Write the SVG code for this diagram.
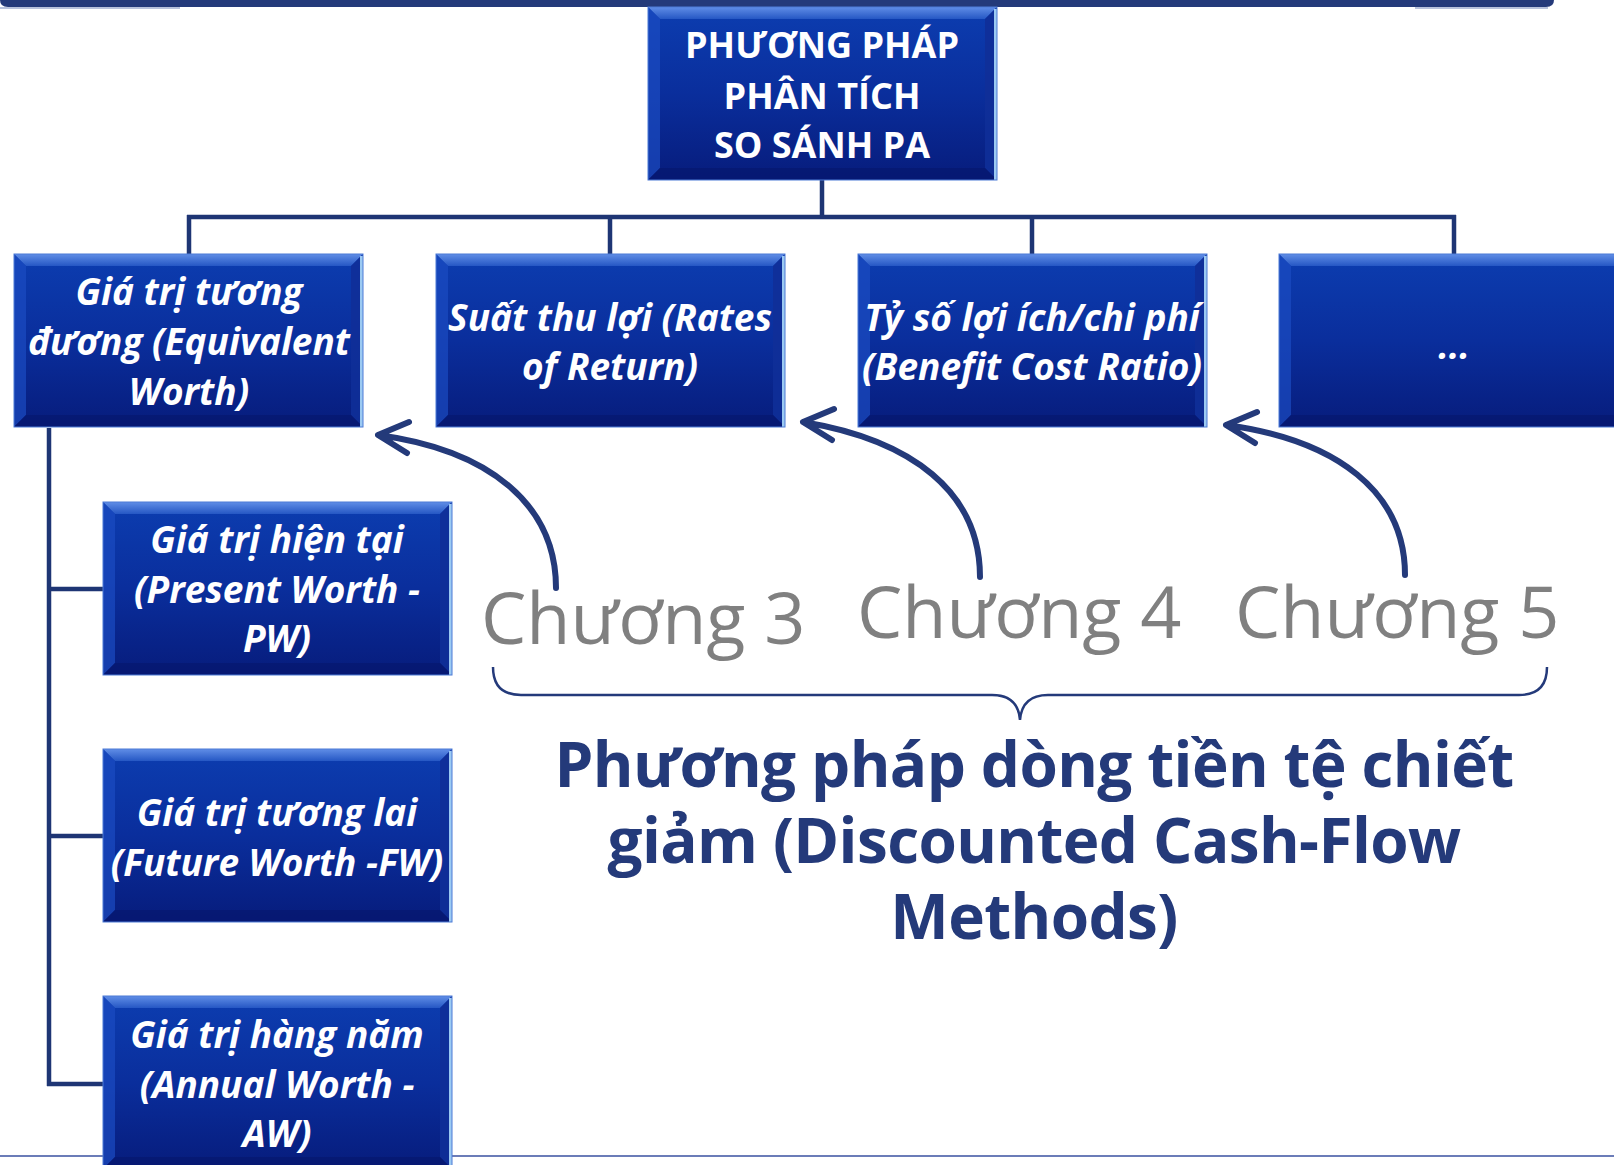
<svg xmlns="http://www.w3.org/2000/svg" xmlns:xlink="http://www.w3.org/1999/xlink" width="1614" height="1165" viewBox="0 0 1614 1165">
<defs>
<linearGradient id="gBox" x1="0" y1="0" x2="0" y2="1">
<stop offset="0" stop-color="#0c3db0"/>
<stop offset="0.5" stop-color="#0a2e9c"/>
<stop offset="1" stop-color="#071c7c"/>
</linearGradient>
<linearGradient id="gTop" x1="0" y1="0" x2="0" y2="1">
<stop offset="0" stop-color="#6f9cf0"/>
<stop offset="1" stop-color="#2a5cc8"/>
</linearGradient>
<g id="box">
<rect x="0" y="0" width="349" height="173" fill="url(#gBox)"/>
<polygon points="0,0 349,0 337,12 12,12" fill="url(#gTop)" opacity="0.85"/>
<polygon points="0,0 12,12 12,161 0,173" fill="#1b4cc2" opacity="0.7"/>
<polygon points="349,0 349,173 337,161 337,12" fill="#0f2f98" opacity="0.9"/>
<polygon points="0,173 12,161 337,161 349,173" fill="#061870" opacity="0.8"/>
<rect x="346" y="2" width="3" height="171" fill="#9ccaf2"/>
<rect x="0" y="0" width="349" height="173" fill="none" stroke="#4d7bd6" stroke-width="1"/>
</g>
<style>
.conn{fill:none;stroke:#1e3574;stroke-width:4.5}
.arr{fill:none;stroke:#243a7a;stroke-width:6;stroke-linecap:round;stroke-linejoin:round}
.brace{fill:none;stroke:#243a7a;stroke-width:2.5}
.t{font-family:"Open Sans","Noto Sans",sans-serif;fill:#fff;font-weight:bold;font-style:italic;font-size:37px;text-anchor:middle}
.tt{font-family:"Open Sans","Noto Sans",sans-serif;fill:#fff;font-weight:bold;font-size:36px;text-anchor:middle}
.ch{font-family:"Open Sans","Noto Sans",sans-serif;fill:#808080;font-size:72px}
.big{font-family:"Open Sans","Noto Sans",sans-serif;fill:#243a7a;font-weight:bold;font-size:62px;letter-spacing:-0.6px;text-anchor:middle}
</style>
</defs>
<rect width="1614" height="1165" fill="#fff"/>
<path d="M0,-10 H1554 V0 Q1554,7 1546,7 H8 Q0,7 0,0 Z" fill="#243a7a"/>
<line x1="0" y1="8" x2="180" y2="8" stroke="#a0aed0" stroke-width="1.5"/>
<line x1="1415" y1="8" x2="1548" y2="8" stroke="#a0aed0" stroke-width="1.5"/>
<line x1="0" y1="1156" x2="1614" y2="1156" stroke="#3a50a0" stroke-width="1.5"/>
<g id="connectors">
<path class="conn" d="M822,180 V217 M187,217 H1456 M189,215 V254 M610,215 V254 M1032,215 V254 M1454,215 V254"/>
<path class="conn" d="M49,428 V1086 M47,589 H103 M47,836 H103 M47,1084 H103"/>
<path class="arr" d="M556,588 C556,505 490,450 378,435 M409,422 L378,435 L407,453"/>
<path class="arr" d="M980,577 C980,492 912,440 803,422 M834,409 L803,422 L832,440"/>
<path class="arr" d="M1405,575 C1405,492 1337,440 1226,425 M1257,412 L1226,425 L1255,443"/>
<path class="brace" d="M493,667 Q493,695 521,695 L992,695 Q1018,695 1020,720 Q1022,695 1048,695 L1519,695 Q1547,695 1547,667"/>
</g>
<g id="n-root">
<use xlink:href="#box" x="648" y="7"/>
<text class="tt" x="822" y="58">PHƯƠNG PHÁP</text>
<text class="tt" x="822" y="109">PHÂN TÍCH</text>
<text class="tt" x="822" y="158">SO SÁNH PA</text>
</g>
<g id="n-ew">
<use xlink:href="#box" x="14" y="254"/>
<text class="t" x="189" y="305">Giá trị tương</text>
<text class="t" x="189" y="355">đương (Equivalent</text>
<text class="t" x="189" y="405">Worth)</text>
</g>
<g id="n-ror">
<use xlink:href="#box" x="436" y="254"/>
<text class="t" x="610" y="331">Suất thu lợi (Rates</text>
<text class="t" x="610" y="380">of Return)</text>
</g>
<g id="n-bcr">
<use xlink:href="#box" x="858" y="254"/>
<text class="t" x="1032" y="331">Tỷ số lợi ích/chi phí</text>
<text class="t" x="1032" y="380">(Benefit Cost Ratio)</text>
</g>
<g id="n-more">
<use xlink:href="#box" x="1279" y="254"/>
<text class="t" x="1454" y="359" font-style="normal">...</text>
</g>
<g id="n-pw">
<use xlink:href="#box" x="103" y="502"/>
<text class="t" x="277" y="553">Giá trị hiện tại</text>
<text class="t" x="277" y="603">(Present Worth -</text>
<text class="t" x="277" y="652">PW)</text>
</g>
<g id="n-fw">
<use xlink:href="#box" x="103" y="749"/>
<text class="t" x="277" y="826">Giá trị tương lai</text>
<text class="t" x="277" y="876">(Future Worth -FW)</text>
</g>
<g id="n-aw">
<use xlink:href="#box" x="103" y="996"/>
<text class="t" x="277" y="1048">Giá trị hàng năm</text>
<text class="t" x="277" y="1098">(Annual Worth -</text>
<text class="t" x="277" y="1147">AW)</text>
</g>
<g id="labels">
<text class="ch" x="481" y="644">Chương 3</text>
<text class="ch" x="857" y="638">Chương 4</text>
<text class="ch" x="1235" y="638">Chương 5</text>
<text class="big" x="1034" y="787">Phương pháp dòng tiền tệ chiết</text>
<text class="big" x="1034" y="863">giảm (Discounted Cash-Flow</text>
<text class="big" x="1034" y="939">Methods)</text>
</g>
</svg>
